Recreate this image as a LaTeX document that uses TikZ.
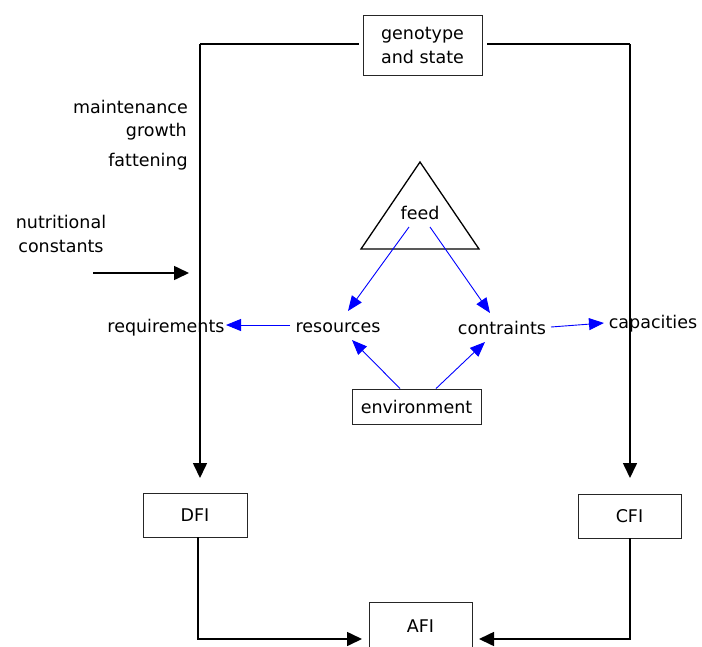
\documentclass[tikz,border=0pt]{standalone}
\usepackage{fontspec}
\setmainfont{DejaVu Sans}
\usetikzlibrary{arrows.meta}
\definecolor{flowblue}{RGB}{0,0,255}
\tikzset{
  lbl/.style={inner sep=0pt, font=\fontsize{17.5}{24}\selectfont},
  boxnode/.style={draw=black!85, line width=0.9pt, inner sep=0pt, font=\fontsize{17.5}{24}\selectfont, align=center},
  mainline/.style={line width=1.6pt, line join=miter},
  mainarrow/.style={mainline, -{Triangle[length=15pt,width=14pt]}},
  bluearrow/.style={draw=flowblue, line width=0.9pt, -{Triangle[length=15pt,width=12pt]}}
}
\begin{document}
\begin{tikzpicture}[x=1pt,y=-1pt]
\useasboundingbox (0,0) rectangle (702,646);

% boxes
\node[boxnode, minimum width=119pt, minimum height=60pt] (geno) at (422.5,45) {genotype\\and state};
\node[boxnode, minimum width=104pt, minimum height=44pt] (dfi) at (195,515) {DFI};
\node[boxnode, minimum width=103pt, minimum height=44pt] (cfi) at (629.5,516) {CFI};
\node[boxnode, minimum width=103pt, minimum height=56pt, anchor=north] (afi) at (420.5,602) {\raisebox{8pt}{AFI}};
\node[boxnode, minimum width=129pt, minimum height=35pt] (env) at (416.5,406.5) {environment};

% feed triangle
\draw[line width=1.3pt, line join=miter] (420,162) -- (479,249) -- (361,249) -- cycle;
\node[lbl] (feed) at (420,213) {feed};

% labels
\node[lbl, anchor=east] (maint) at (188,107) {maintenance};
\node[lbl, anchor=east] (growth) at (187,132) {growth};
\node[lbl, anchor=east] (fatten) at (188,162) {fattening};
\node[lbl, align=center] (nutri) at (61,234) {nutritional\\constants};
\node[lbl] (req) at (166,328) {requirements};
\node[lbl] (res) at (338,328) {resources};
\node[lbl] (con) at (502,328) {contraints};
\node[lbl] (cap) at (653,324) {capacities};

% connector points
\coordinate (gl) at (200,44);
\coordinate (gr) at (630,44);
\coordinate (dl) at (200,478);
\coordinate (dr) at (630,478);
\coordinate (nstart) at (93,273);
\coordinate (nend) at (189,273);
\coordinate (dfiout) at (198,537);
\coordinate (cfiout) at (630,538);
\coordinate (bl) at (198,639);
\coordinate (br) at (630,639);
\coordinate (afil) at (362,639);
\coordinate (afir) at (479,639);

% black flow lines
\draw[mainline] (geno.west) ++(-4,-1) -- (gl);
\draw[mainarrow] (gl) -- (dl);
\draw[mainline] (geno.east) ++(5,-1) -- (gr);
\draw[mainarrow] (gr) -- (dr);
\draw[mainarrow] (nstart) -- (nend);
\draw[mainarrow] (dfiout) -- (bl) -- (afil);
\draw[mainarrow] (cfiout) -- (br) -- (afir);

% blue flow lines
\draw[bluearrow] (409,227) -- (348,311);
\draw[bluearrow] (430,227) -- (490,313);
\draw[bluearrow] (290,325) -- (226,325);
\draw[bluearrow] (551,327) -- (604,323);
\draw[bluearrow] (env.north -| 400,0) -- (352,340);
\draw[bluearrow] (env.north -| 436,0) -- (485,342);
\end{tikzpicture}
\end{document}
